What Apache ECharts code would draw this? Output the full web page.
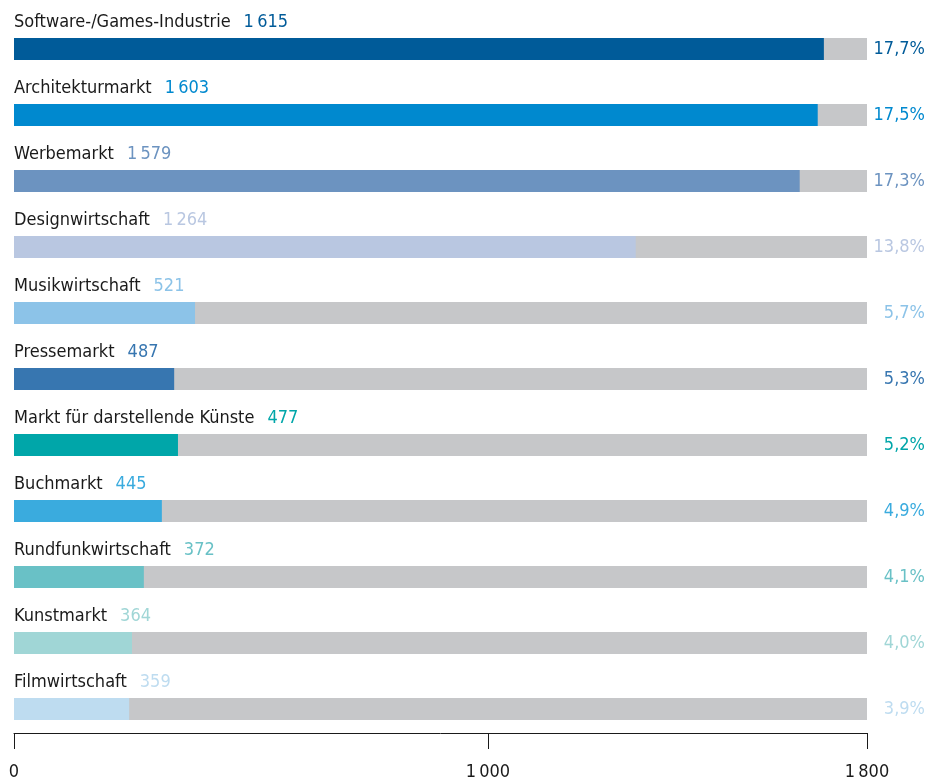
<!DOCTYPE html>
<html>
<head>
<meta charset="utf-8">
<script src="https://cdn.jsdelivr.net/npm/echarts@6/dist/echarts.min.js"></script>
<style>
  html, body { margin: 0; padding: 0; background: #ffffff; }
  #chart { width: 939px; height: 784px; }
</style>
</head>
<body>
<div id="chart"></div>
<script>
const categories = [
  'Software-/Games-Industrie', 'Architekturmarkt', 'Werbemarkt', 'Designwirtschaft',
  'Musikwirtschaft', 'Pressemarkt', 'Markt für darstellende Künste', 'Buchmarkt',
  'Rundfunkwirtschaft', 'Kunstmarkt', 'Filmwirtschaft'
];
// bar lengths
const barValues = [1709, 1696, 1658, 1312, 382, 338, 346, 312, 274, 249, 243];
// values printed next to the category names
const labelValues = [1615, 1603, 1579, 1264, 521, 487, 477, 445, 372, 364, 359];
const shares = ['17,7%', '17,5%', '17,3%', '13,8%', '5,7%', '5,3%', '5,2%', '4,9%', '4,1%', '4,0%', '3,9%'];
const colors = ['#005b99', '#0089cf', '#6c93c0', '#b9c7e1', '#8cc3e8', '#3776b0',
                '#00a6a9', '#3aabde', '#69c1c6', '#a0d6d6', '#bedcf0'];
const axisMax = 1800;
const tickValues = [0, 1000, 1800];

const FONT = "'Liberation Sans Narrow', 'DejaVu Sans Condensed', 'Roboto', sans-serif";
const fmt = n => n >= 1000 ? String(n).replace(/\B(?=(\d{3})+$)/g, '\u2009') : String(n);

const chart = echarts.init(document.getElementById('chart'), null, { renderer: 'canvas' });

const trackData = categories.map((c, i) => ({
  value: axisMax,
  label: { color: colors[i] }
}));
const barData = barValues.map((v, i) => ({
  value: v,
  itemStyle: { color: colors[i] },
  label: {
    formatter: '{n|' + categories[i] + '}{v|' + fmt(labelValues[i]) + '}',
    rich: {
      n: { color: '#1a1a1a', fontSize: 18, fontFamily: FONT },
      v: { color: colors[i], fontSize: 18, fontFamily: FONT, padding: [0, 0, 0, 13] }
    }
  }
}));

chart.setOption({
  animation: false,
  backgroundColor: '#ffffff',
  textStyle: { fontFamily: FONT },
  grid: { left: 14, width: 853, top: 16, height: 726, containLabel: false },
  xAxis: {
    type: 'value',
    min: 0,
    max: axisMax,
    offset: -9,
    splitLine: { show: false },
    axisLine: { show: true, lineStyle: { color: '#1a1a1a', width: 1 } },
    axisTick: { show: true, customValues: tickValues, length: 16, lineStyle: { color: '#1a1a1a', width: 1 } },
    axisLabel: {
      customValues: tickValues,
      formatter: v => fmt(v),
      color: '#1a1a1a',
      fontSize: 18,
      fontFamily: FONT,
      margin: 30,
      showMinLabel: true,
      showMaxLabel: true
    }
  },
  yAxis: {
    type: 'category',
    data: categories,
    inverse: true,
    show: false
  },
  series: [
    {
      type: 'bar',
      name: 'track',
      data: trackData,
      barWidth: 22,
      barGap: '-100%',
      silent: true,
      itemStyle: { color: '#c6c7c9' },
      label: {
        show: true,
        position: ['100%', '50%'],
        offset: [58, 0],
        align: 'right',
        verticalAlign: 'middle',
        fontSize: 18,
        fontFamily: FONT,
        formatter: p => shares[p.dataIndex]
      },
      z: 1
    },
    {
      type: 'bar',
      name: 'values',
      data: barData,
      barWidth: 22,
      barGap: '-100%',
      silent: true,
      label: {
        show: true,
        position: [0, -16],
        align: 'left',
        verticalAlign: 'middle'
      },
      z: 2
    }
  ]
});
</script>
</body>
</html>
